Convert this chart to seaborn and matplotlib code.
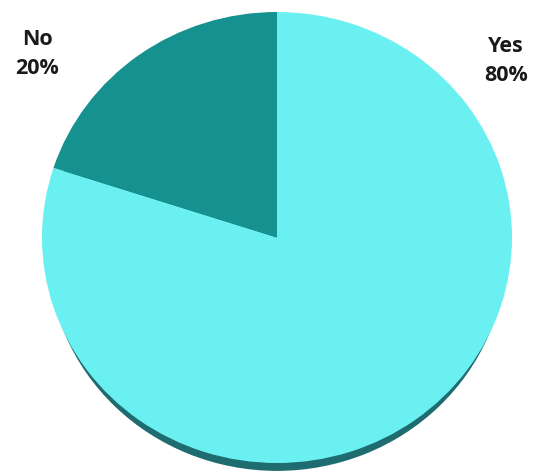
import matplotlib.pyplot as plt
import seaborn as sns

labels = ['Yes', 'No']
values = [80, 20]
colors = ['#6AF0F0', '#15918F']
shadow_color = '#1E6C70'

sns.set_style('white')
plt.rcParams['font.family'] = ['Open Sans', 'DejaVu Sans']

fig = plt.figure(figsize=(5.37, 4.72), dpi=100)
ax = fig.add_axes([42 / 537, 1 - 463 / 472, 470 / 537, 451 / 472])

# dark rim under the pie, shifted down a little
ax.pie([sum(values)], colors=[shadow_color], radius=0.975, center=(0, -0.06),
       wedgeprops=dict(linewidth=0))
ax.pie(values, colors=colors, startangle=90, counterclock=False,
       radius=1.0, wedgeprops=dict(linewidth=0))
ax.set_aspect('auto')
ax.set_xlim(-1, 1)
ax.set_ylim(-1.0, 1.0)
ax.axis('off')

label_pos = {'No': (37 / 537, 1 - 54 / 472), 'Yes': (506 / 537, 1 - 61 / 472)}
for lab, val in zip(labels, values):
    x, y = label_pos[lab]
    fig.text(x, y, f'{lab}\n{val}%', ha='center', va='center', fontsize=15.5,
             fontweight='bold', color='#1a1a1a', linespacing=1.5)

fig.savefig('out.png', dpi=100)
